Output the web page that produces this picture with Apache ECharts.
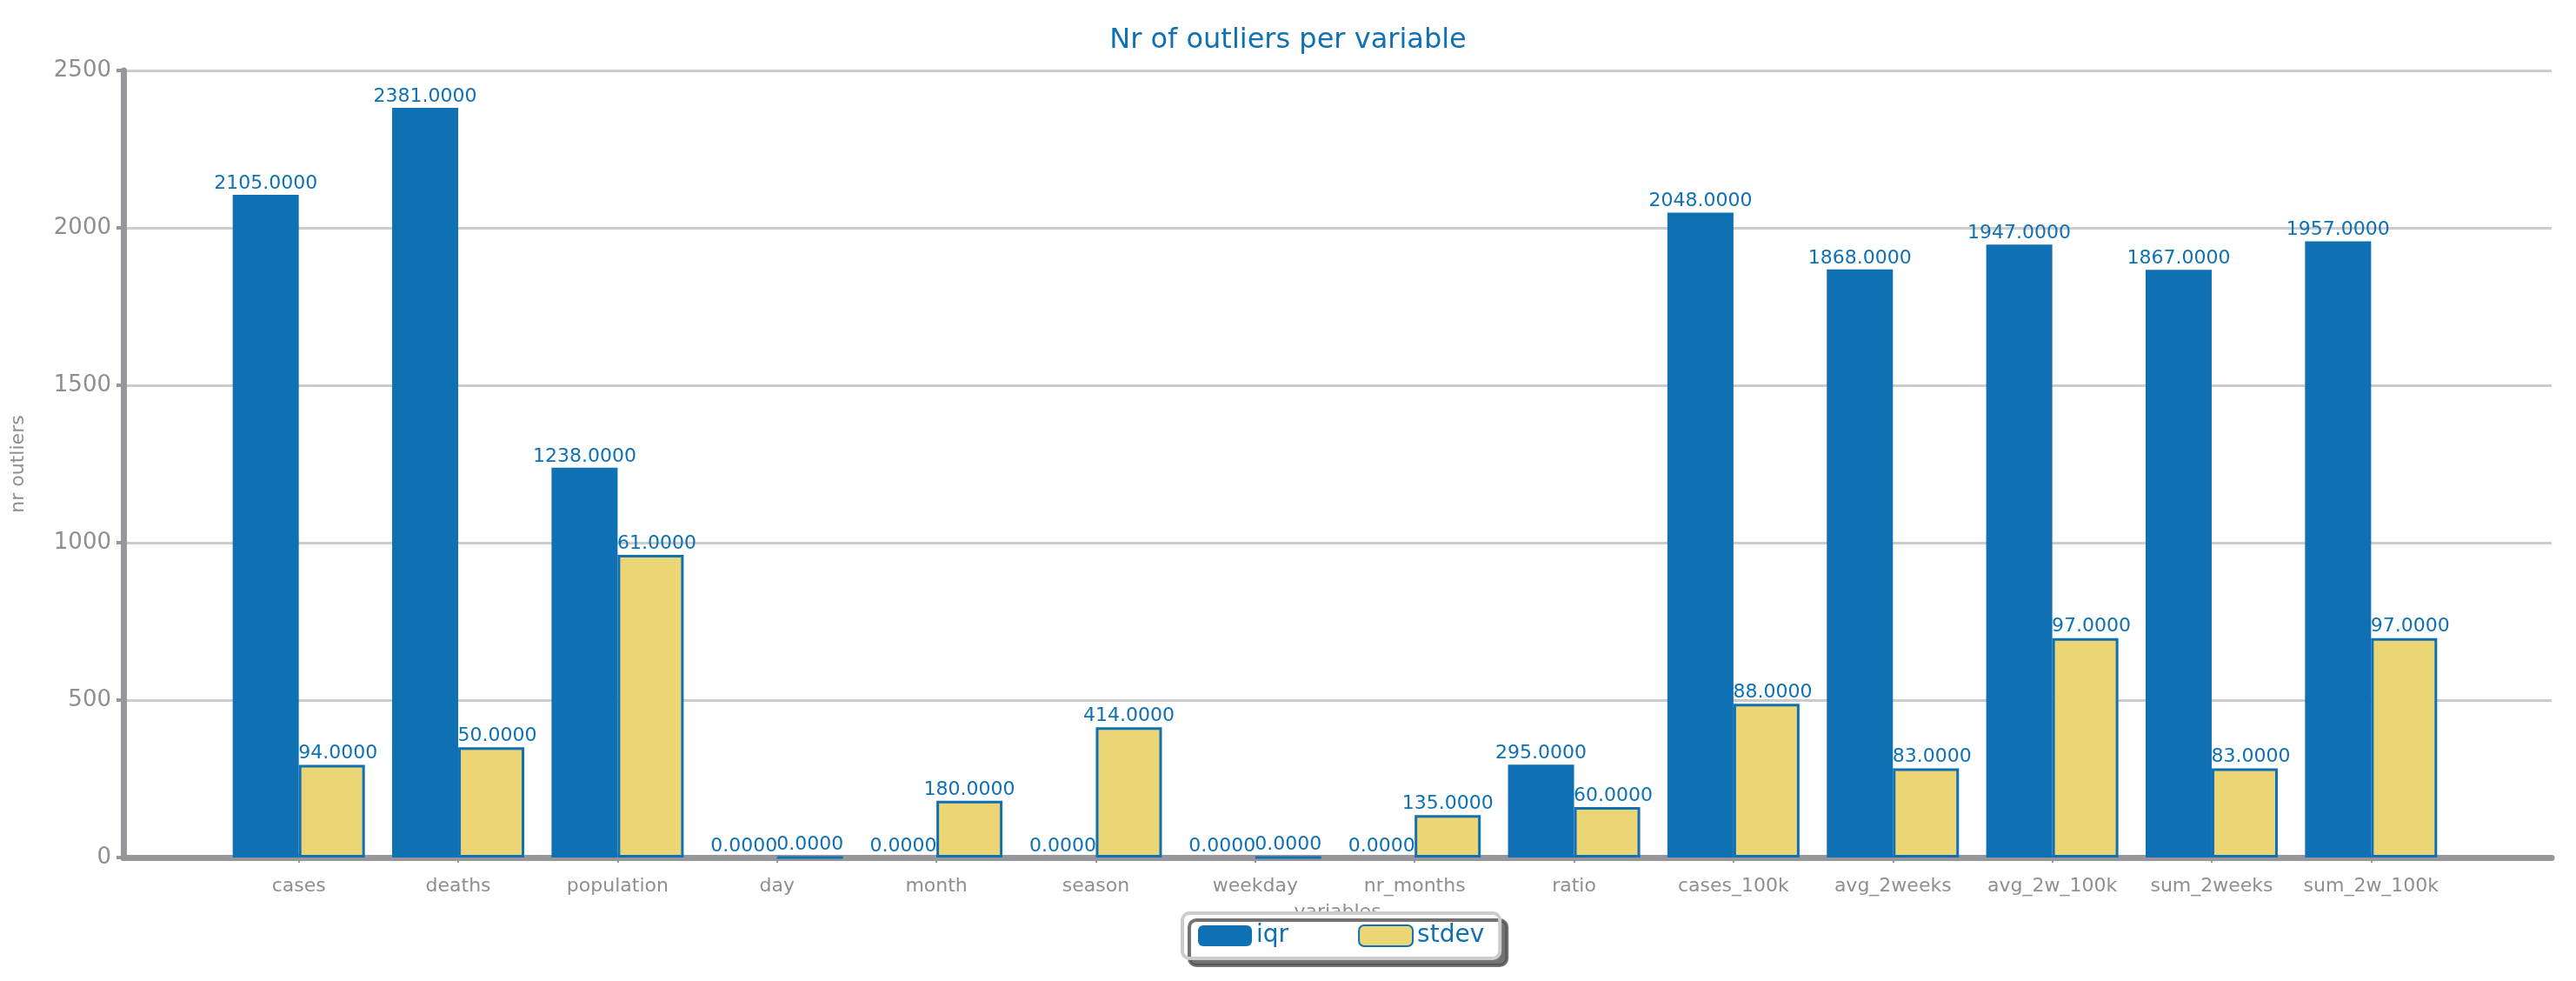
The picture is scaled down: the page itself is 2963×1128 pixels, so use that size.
<!DOCTYPE html>
<html><head><meta charset="utf-8">
<script src="https://cdn.jsdelivr.net/npm/echarts@6/dist/echarts.min.js"></script>
<style>html,body{margin:0;background:#fff}#c{width:2963px;height:1128px}</style>
</head><body><div id="c"></div>
<script>
// 資料
var categories = ["cases", "deaths", "population", "day", "month", "season", "weekday", "nr_months", "ratio", "cases_100k", "avg_2weeks", "avg_2w_100k", "sum_2weeks", "sum_2w_100k"];
var iqr = [2105, 2381, 1238, 0, 0, 0, 0, 0, 295, 2048, 1868, 1947, 1867, 1957];
var stdev = [294, 350, 961, 0, 180, 414, 0, 135, 160, 488, 283, 697, 283, 697];
var yTicks = [0, 500, 1000, 1500, 2000, 2500];

var BLUE = "#0f71b3", GOLD = "#ebd574", GRAY = "#97979b", MUTED = "#8f8f8f";
var F = "DejaVu Sans";
var lbl = { show: true, position: "top", distance: 2, color: BLUE, fontSize: 22, fontFamily: F,
  formatter: function (p) { return p.value.toFixed(4); } };

var chart = echarts.init(document.getElementById("c"), null, { renderer: "canvas" });
chart.setOption({
  animation: false,
  title: { text: "Nr of outliers per variable", left: "center", top: 26,
    textStyle: { color: BLUE, fontSize: 32, fontWeight: "normal", fontFamily: F } },
  grid: [
    { left: 142, right: 28, top: 81, bottom: 142 },
    { left: 252, right: 144, top: 81, bottom: 142 }
  ],
  legend: {
    data: [{ name: "iqr" }, { name: "stdev" }], left: 1360, top: 1050,
    itemWidth: 62, itemHeight: 24, itemGap: 80, padding: [12, 18, 12, 18],
    backgroundColor: "#fff", borderColor: "#cccccc", borderWidth: 4, borderRadius: 8,
    shadowColor: "rgba(80,80,80,0.8)", shadowOffsetX: 8, shadowOffsetY: 8,
    textStyle: { color: BLUE, fontSize: 28, fontFamily: F }
  },
  xAxis: [
    { gridIndex: 0, type: "value", min: 0, max: 1, show: true,
      name: "variables", nameLocation: "middle", nameGap: 52,
      nameTextStyle: { color: MUTED, fontSize: 22, fontFamily: F },
      axisLine: { lineStyle: { color: GRAY, width: 7 } }, axisTick: { show: false },
      axisLabel: { show: false }, splitLine: { show: false } },
    { gridIndex: 1, type: "category", data: categories,
      axisLine: { show: false },
      axisTick: { show: true, alignWithLabel: true, length: 6, lineStyle: { color: GRAY, width: 2 } },
      axisLabel: { color: MUTED, fontSize: 22, fontFamily: F, margin: 22, interval: 0 } }
  ],
  yAxis: [
    { gridIndex: 0, type: "value", min: 0, max: 2500, interval: 500,
      name: "nr outliers", nameLocation: "middle", nameGap: 110,
      nameTextStyle: { color: MUTED, fontSize: 22, fontFamily: F },
      axisLine: { show: true, lineStyle: { color: GRAY, width: 7 } },
      axisTick: { show: true, length: 8, lineStyle: { color: GRAY, width: 4 } },
      axisLabel: { color: MUTED, fontSize: 26, fontFamily: F, margin: 14,
        formatter: function (v) { return yTicks.indexOf(v) >= 0 ? String(v) : ""; } },
      splitLine: { lineStyle: { color: "#cccccc", width: 3 } } },
    { gridIndex: 1, type: "value", min: 0, max: 2500, interval: 500, show: false }
  ],
  series: [
    { name: "iqr", type: "bar", xAxisIndex: 1, yAxisIndex: 1, data: iqr,
      barWidth: 76, barGap: "0%", itemStyle: { color: BLUE }, label: lbl },
    { name: "stdev", type: "bar", xAxisIndex: 1, yAxisIndex: 1, data: stdev,
      barWidth: 76, barGap: "0%", itemStyle: { color: GOLD, borderColor: BLUE, borderWidth: 3 }, label: lbl }
  ]
});
</script></body></html>
